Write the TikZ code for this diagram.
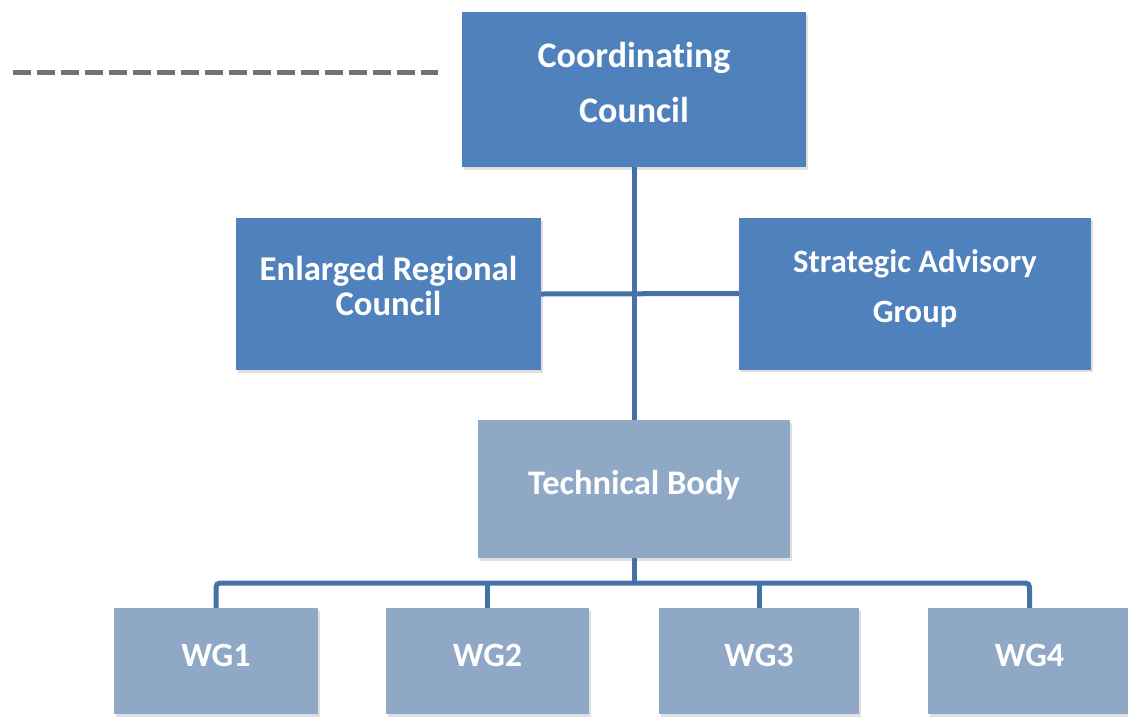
\documentclass[tikz,border=0pt]{standalone}
\usepackage{fontspec}
\setmainfont{Carlito}[Ligatures=NoCommon]
\usetikzlibrary{shadows}
\definecolor{darkbox}{HTML}{4F81BD}
\definecolor{lightbox}{HTML}{8EA8C6}
\definecolor{conn}{HTML}{4471A6}
\definecolor{dashgray}{HTML}{767171}
\begin{document}
\begin{tikzpicture}[x=1pt,y=-1pt,
  box/.style={rectangle, inner sep=0pt, draw=none,
    drop shadow={shadow xshift=1.5pt, shadow yshift=-2.5pt, opacity=0.25}},
  dark/.style={box, fill=darkbox},
  light/.style={box, fill=lightbox},
  txt/.style 2 args={text=white, align=center, inner sep=0pt,
    font=\bfseries\fontsize{#1}{#2}\selectfont},
  link/.style={draw=conn, line width=5pt},
  dashline/.style={draw=dashgray, line width=5pt, dash pattern=on 17.5pt off 6.5pt},
]
\useasboundingbox (0,0) rectangle (1128,721);

\node[dark, minimum width=344pt, minimum height=155pt,
  label={[txt={36}{55}, yshift=7pt]center:Coordinating\\Council}] (cc) at (634,89.5) {};
\node[dark, minimum width=305pt, minimum height=152pt,
  label={[txt={34.7}{35}, yshift=8pt]center:Enlarged Regional\\Council}] (erc) at (388.5,294) {};
\node[dark, minimum width=352pt, minimum height=152pt,
  label={[txt={32.6}{50}, yshift=5pt]center:Strategic Advisory\\Group}] (sag) at (915,293.5) {};
\node[light, minimum width=312pt, minimum height=138pt,
  label={[txt={34.5}{40}, yshift=4pt]center:Technical Body}] (tb) at (634,489) {};
\node[light, minimum width=204pt, minimum height=106pt,
  label={[txt={34}{40}, yshift=6pt]center:WG1}] (wg1) at (216,661) {};
\node[light, minimum width=203pt, minimum height=106pt,
  label={[txt={34}{40}, yshift=6pt]center:WG2}] (wg2) at (487.5,661) {};
\node[light, minimum width=200pt, minimum height=106pt,
  label={[txt={34}{40}, yshift=6pt]center:WG3}] (wg3) at (759,661) {};
\node[light, minimum width=203pt, minimum height=106pt,
  label={[txt={34}{40}, yshift=6pt]center:WG4}] (wg4) at (1029.5,661) {};

\coordinate (dl) at (13,72);
\coordinate (dr) at (438,72);
\draw[dashline] (dl) -- (dr);

\draw[link] (cc.south) -- (tb.north);
\draw[link] (erc.east) -- (sag.west);
\coordinate (bus) at (634,583);
\draw[link] (tb.south) -- (bus);
\draw[link, rounded corners=4pt] (wg1.north) |- (bus) -| (wg4.north);
\draw[link] (wg2.north) -- (wg2.north |- bus);
\draw[link] (wg3.north) -- (wg3.north |- bus);
\end{tikzpicture}
\end{document}
